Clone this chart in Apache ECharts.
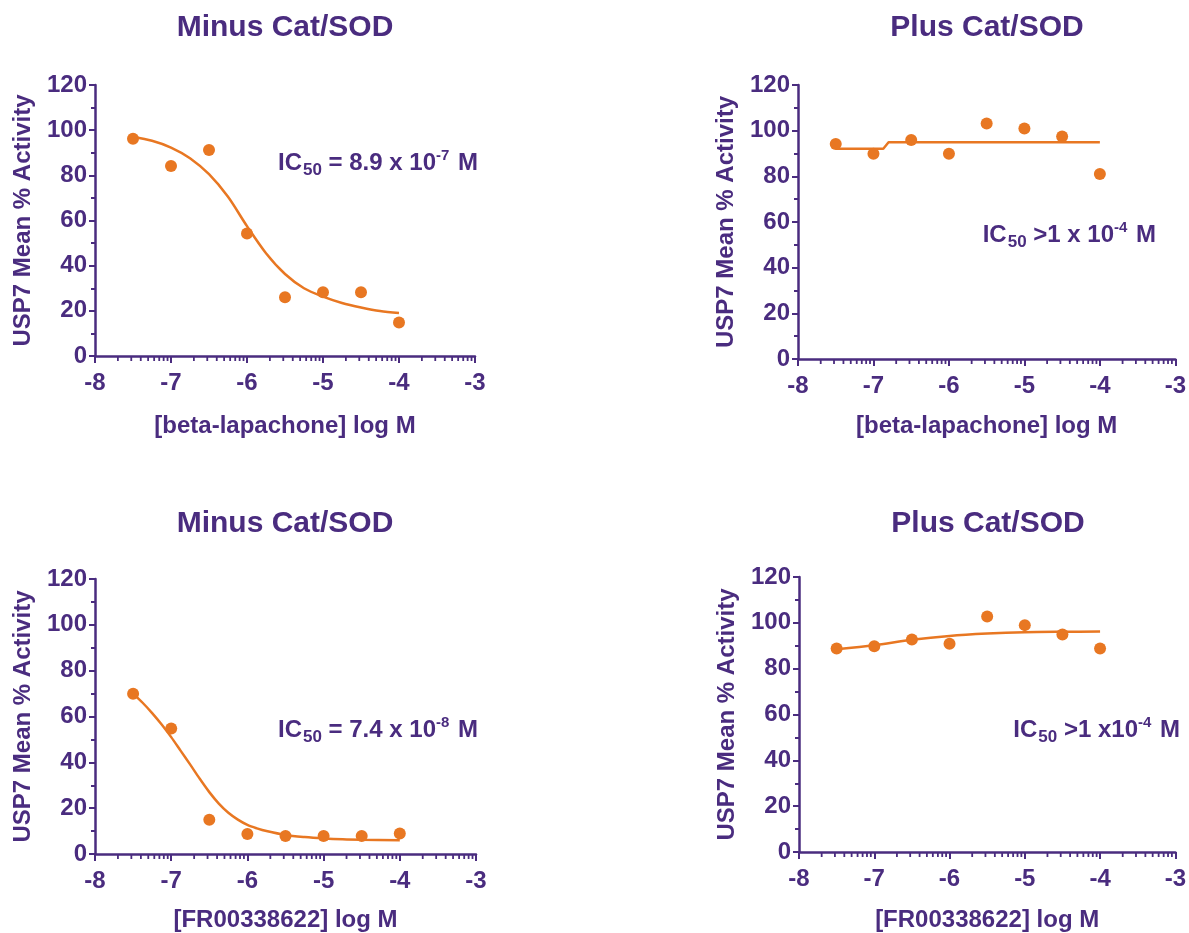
<!DOCTYPE html>
<html>
<head>
<meta charset="utf-8">
<script src="https://cdn.jsdelivr.net/npm/echarts@6/dist/echarts.min.js"></script>
<style>
html,body{margin:0;padding:0;background:#fff;}
#chart{width:1189px;height:933px;}
</style>
</head>
<body>
<div id="chart"></div>
<script>
// ---- data ----
const logDose = [-7.5, -7, -6.5, -6, -5.5, -5, -4.5, -4];
const xTicks = [-8, -7, -6, -5, -4, -3];
const yTicks = [0, 20, 40, 60, 80, 100, 120];

// Top-left: beta-lapachone, minus Cat/SOD
const betaMinus = [96.2, 84.1, 91.2, 54.2, 26.0, 28.2, 28.2, 14.8];
const betaMinusFitX = [-7.5, -7.25, -7, -6.75, -6.5, -6.25, -6, -5.75, -5.5, -5.25, -5, -4.75, -4.5, -4.25, -4];
const betaMinusFitY = [97, 95.3, 92.3, 87.6, 80.5, 70.5, 57.5, 45.5, 36.3, 30, 26.3, 23.5, 21.5, 19.9, 19];

// Top-right: beta-lapachone, plus Cat/SOD
const betaPlus = [94.2, 89.9, 95.9, 89.9, 103.1, 101.0, 97.4, 81.0];
const betaPlusFitX = [-7.5, -6.87, -6.8, -4];
const betaPlusFitY = [92.1, 92.1, 94.9, 94.9];

// Bottom-left: FR00338622, minus Cat/SOD
const frMinus = [69.9, 54.8, 14.9, 8.7, 7.9, 7.9, 7.9, 8.9];
const frMinusFitX = [-7.5, -7.375, -7.25, -7.125, -7, -6.875, -6.75, -6.625, -6.5, -6.375, -6.25, -6.125, -6, -5.875, -5.75, -5.5, -5.25, -5, -4.75, -4.5, -4];
const frMinusFitY = [70, 66, 61.5, 56.5, 51, 45, 39, 32.8, 27, 22, 18, 15, 12.7, 11.2, 10, 8.3, 7.4, 6.8, 6.4, 6.2, 6];

// Bottom-right: FR00338622, plus Cat/SOD
const frPlus = [88.8, 89.8, 92.7, 90.9, 102.8, 99.0, 94.9, 88.8];
const frPlusFitX = [-7.5, -7, -6.5, -6, -5.5, -5, -4.5, -4];
const frPlusFitY = [88.5, 90.2, 92.6, 94.3, 95.3, 95.9, 96.1, 96.2];

// log minor tick multipliers (2..9 within each decade)
const minorMult = [2, 3, 4, 5, 6, 7, 8, 9];

const panelTitles = ['Minus Cat/SOD', 'Plus Cat/SOD', 'Minus Cat/SOD', 'Plus Cat/SOD'];
const xNames = ['[beta-lapachone] log M', '[beta-lapachone] log M', '[FR00338622] log M', '[FR00338622] log M'];
const yName = 'USP7 Mean % Activity';
const icLabels = [
  [' = 8.9 x 10', '-7', ' M'],
  [' >1 x 10', '-4', ' M'],
  [' = 7.4 x 10', '-8', ' M'],
  [' >1 x10', '-4', ' M']
];

// ---- styling ----
const PURPLE = '#4a2c7f';
const ORANGE = '#e87722';
const FONT = '"Liberation Sans", Arial, Helvetica, sans-serif';

const grids = [
  {left: 95, top: 85, width: 380, height: 271},
  {left: 798, top: 85, width: 379, height: 274},
  {left: 95, top: 579, width: 381, height: 275},
  {left: 799, top: 577, width: 378, height: 275}
];
const xNameGaps = [58, 55, 54, 56];

const minorTickVals = [];
for (let d = -8; d < -3; d++) {
  minorMult.forEach(m => minorTickVals.push(d + Math.log10(m)));
}

const option = {
  animation: false,
  backgroundColor: '#fff',
  grid: grids.map(g => Object.assign({containLabel: false}, g)),
  xAxis: grids.map((g, i) => ({
    type: 'value', gridIndex: i, min: -8, max: -3, interval: 1,
    name: xNames[i], nameLocation: 'middle', nameGap: xNameGaps[i],
    nameTextStyle: {color: PURPLE, fontSize: 24, fontWeight: 'bold', fontFamily: FONT},
    axisLine: {show: true, onZero: false, lineStyle: {color: PURPLE, width: 2.5}},
    axisTick: {show: true, length: 7, lineStyle: {color: PURPLE, width: 2}},
    axisLabel: {color: PURPLE, fontSize: 24, fontWeight: 'bold', fontFamily: FONT, margin: 15},
    splitLine: {show: false}
  })),
  yAxis: grids.map((g, i) => ({
    type: 'value', gridIndex: i, min: 0, max: 120, interval: 20,
    name: yName, nameLocation: 'middle', nameGap: 60,
    nameTextStyle: {color: PURPLE, fontSize: 24, fontWeight: 'bold', fontFamily: FONT},
    axisLine: {show: true, onZero: false, lineStyle: {color: PURPLE, width: 2.5}},
    axisTick: {show: true, length: 6, lineStyle: {color: PURPLE, width: 2}},
    minorTick: {show: true, splitNumber: 2, length: 4, lineStyle: {color: PURPLE, width: 2}},
    axisLabel: {color: PURPLE, fontSize: 24, fontWeight: 'bold', fontFamily: FONT, margin: 8},
    splitLine: {show: false}
  })),
  series: [],
  graphic: []
};

const pointsSets = [betaMinus, betaPlus, frMinus, frPlus];
const fitSets = [
  [betaMinusFitX, betaMinusFitY, true],
  [betaPlusFitX, betaPlusFitY, false],
  [frMinusFitX, frMinusFitY, true],
  [frPlusFitX, frPlusFitY, true]
];

for (let i = 0; i < 4; i++) {
  const [fx, fy, smooth] = fitSets[i];
  option.series.push({
    type: 'line', xAxisIndex: i, yAxisIndex: i,
    data: fx.map((x, k) => [x, fy[k]]),
    smooth: smooth ? 0.3 : false, showSymbol: false, symbol: 'none',
    lineStyle: {color: ORANGE, width: 2.5}, z: 3
  });
  option.series.push({
    type: 'scatter', xAxisIndex: i, yAxisIndex: i,
    data: logDose.map((x, k) => [x, pointsSets[i][k]]),
    symbol: 'circle', symbolSize: 12,
    itemStyle: {color: ORANGE, opacity: 1}, z: 4
  });
  option.series.push({
    type: 'custom', xAxisIndex: i, yAxisIndex: i, silent: true, clip: false,
    data: minorTickVals.map(v => [v, 0]),
    renderItem: function (params, api) {
      const p = api.coord([api.value(0), 0]);
      return {
        type: 'line',
        shape: {x1: p[0], y1: p[1], x2: p[0], y2: p[1] + 5},
        style: {stroke: PURPLE, lineWidth: 1.8}
      };
    },
    z: 2
  });
}

// titles
const titleCenters = [[285, 28], [987, 28], [285, 524], [988, 524]];
titleCenters.forEach((c, i) => {
  option.graphic.push({
    type: 'text', x: c[0], y: c[1],
    style: {text: panelTitles[i], align: 'center', verticalAlign: 'middle',
      fill: PURPLE, font: 'bold 30px ' + FONT}
  });
});

// IC50 annotations (right edge x, center y)
const icPos = [[478, 163], [1156, 235], [478, 730], [1180, 730]];
icPos.forEach((p, i) => {
  const t = icLabels[i];
  option.graphic.push({
    type: 'text', x: p[0], y: p[1],
    style: {
      text: '{m|IC}{s|50}{m|' + t[0] + '}{p|' + t[1] + '}{m|' + t[2] + '}',
      align: 'right', verticalAlign: 'middle',
      rich: {
        m: {fontSize: 24, fontWeight: 'bold', fontFamily: FONT, fill: PURPLE, color: PURPLE, lineHeight: 26},
        s: {fontSize: 17, fontWeight: 'bold', fontFamily: FONT, fill: PURPLE, color: PURPLE, lineHeight: 17, padding: [14, 0, 0, 1]},
        p: {fontSize: 15, fontWeight: 'bold', fontFamily: FONT, fill: PURPLE, color: PURPLE, lineHeight: 15, padding: [0, 2, 14, 0]}
      }
    }
  });
});

const chart = echarts.init(document.getElementById('chart'), null, {renderer: 'canvas'});
chart.setOption(option);
</script>
</body>
</html>
